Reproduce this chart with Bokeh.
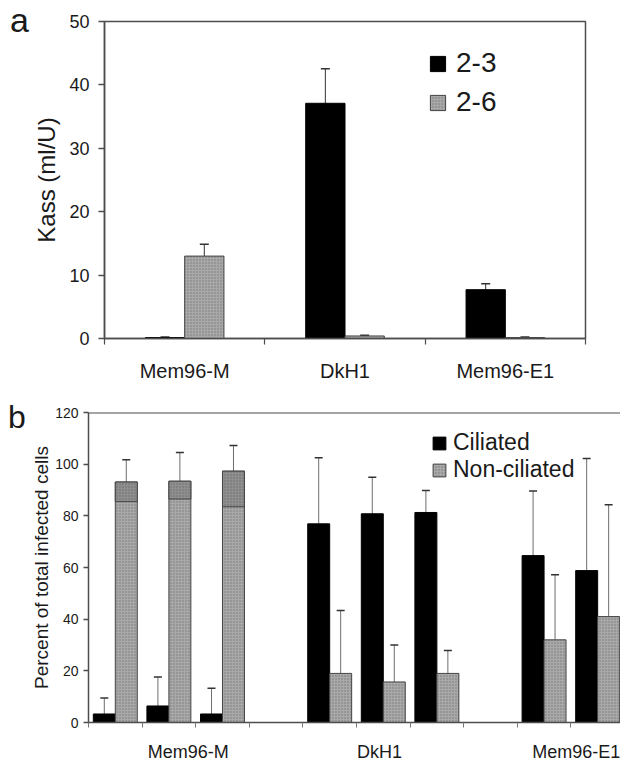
from bokeh.plotting import figure
from bokeh.layouts import column, row
from bokeh.models import (Range1d, FixedTicker, Whisker, ColumnDataSource, Legend,
                          LegendItem, TeeHead, Span, Div)
from bokeh.embed import file_html
from bokeh.resources import INLINE

FONT = "Liberation Sans"
AXC = "#4d4d4d"

# ---------------- Panel a data ----------------
a_categories = ["Mem96-M", "DkH1", "Mem96-E1"]
a_series = ["2-3", "2-6"]
a_val_23 = [0.15, 37.1, 7.7]
a_err_23 = [0.1, 5.45, 0.95]
a_val_26 = [13.0, 0.4, 0.15]
a_err_26 = [1.85, 0.1, 0.1]
a_yticks = [0, 10, 20, 30, 40, 50]

# ---------------- Panel b data ----------------
b_groups = ["Mem96-M", "DkH1", "Mem96-E1"]
b_series = ["Ciliated", "Non-ciliated"]
b_cil_val = [[3.3, 6.4, 3.3], [76.9, 80.8, 81.3], [64.6, 58.8]]
b_cil_err = [[6.2, 11.2, 10.0], [25.6, 14.1, 8.5], [25.0, 43.4]]
b_non_val = [[93.1, 93.4, 97.3], [19.0, 15.7, 19.0], [32.0, 41.0]]
b_non_err = [[8.6, 11.1, 9.9], [24.4, 14.3, 8.9], [25.2, 43.3]]
b_band_lo = [85.5, 86.5, 83.5]          # darker top band on Mem96-M non-ciliated bars
b_label_pos = [1.86, 5.43, 9.1]
b_yticks = [0, 20, 40, 60, 80, 100, 120]

GREY = "#a9a9a9"


def style_common(p):
    p.xgrid.visible = False
    p.ygrid.visible = False
    p.background_fill_color = "white"
    p.border_fill_color = "white"
    for ax in (p.xaxis[0], p.yaxis[0]):
        ax.axis_line_color = AXC
        ax.axis_line_width = 1.5
        ax.major_label_text_font = FONT
        ax.major_label_text_color = "#1a1a1a"
        ax.axis_label_text_font = FONT
        ax.axis_label_text_font_style = "normal"
        ax.axis_label_text_color = "#1a1a1a"


def panel_letter(txt, width, size, pad_left, pad_top):
    return Div(text=txt, width=width, height=50, margin=0,
               styles={"font-family": FONT, "font-size": f"{size}px",
                       "line-height": f"{size}px", "padding-left": f"{pad_left}px",
                       "padding-top": f"{pad_top}px", "box-sizing": "border-box",
                       "color": "#1a1a1a"})


# ================= Panel a =================
pa = figure(width=582, height=392, x_range=Range1d(0, 3), y_range=Range1d(0, 50),
            output_backend="svg", toolbar_location=None, title=None,
            min_border_left=73, min_border_right=27, min_border_top=21, min_border_bottom=54)
pa.frame_align = False
style_common(pa)
pa.outline_line_color = AXC
pa.outline_line_width = 1.5

wa = 0.245
xa_b = [i + 0.5 - wa / 2 for i in range(len(a_categories))]
xa_g = [i + 0.5 + wa / 2 for i in range(len(a_categories))]
src_a1 = ColumnDataSource(dict(x=xa_b, top=a_val_23, up=[v + e for v, e in zip(a_val_23, a_err_23)]))
src_a2 = ColumnDataSource(dict(x=xa_g, top=a_val_26, up=[v + e for v, e in zip(a_val_26, a_err_26)]))
ra1 = pa.vbar(x="x", top="top", bottom=0, width=wa, source=src_a1,
              fill_color="black", line_color="black", line_width=1)
ra2 = pa.vbar(x="x", top="top", bottom=0, width=wa, source=src_a2,
              fill_color=GREY, line_color="#444444", line_width=1,
              hatch_pattern=".", hatch_color="#777777", hatch_scale=3, hatch_weight=1)
for s in (src_a1, src_a2):
    pa.add_layout(Whisker(source=s, base="x", lower="top", upper="up", dimension="height",
                          line_color="#333333", line_width=1, lower_head=None,
                          upper_head=TeeHead(size=9, line_color="#333333", line_width=1.5)))

pa.xaxis.ticker = FixedTicker(ticks=[i + 0.5 for i in range(len(a_categories))],
                              minor_ticks=list(range(len(a_categories) + 1)))
pa.xaxis.major_label_overrides = {i + 0.5: c for i, c in enumerate(a_categories)}
pa.xaxis.major_tick_line_color = None
pa.xaxis.major_tick_out = 0
pa.xaxis.major_tick_in = 0
pa.xaxis.minor_tick_out = 6
pa.xaxis.minor_tick_in = 0
pa.xaxis.minor_tick_line_color = AXC
pa.xaxis.minor_tick_line_width = 1.2
pa.xaxis.major_label_text_font_size = "20px"
pa.xaxis.major_label_standoff = 15

pa.yaxis.ticker = FixedTicker(ticks=a_yticks)
pa.yaxis.minor_tick_line_color = None
pa.yaxis.major_tick_out = 6
pa.yaxis.major_tick_in = 0
pa.yaxis.major_tick_line_color = AXC
pa.yaxis.major_tick_line_width = 1.5
pa.yaxis.major_label_text_font_size = "18px"
pa.yaxis.major_label_standoff = 9
pa.yaxis.axis_label = "Kass (ml/U)"
pa.yaxis.axis_label_text_font_size = "24px"
pa.yaxis.axis_label_standoff = 6

leg_a = Legend(items=[LegendItem(label=a_series[0], renderers=[ra1]),
                      LegendItem(label=a_series[1], renderers=[ra2])],
               location=(324, 220), border_line_color=None, background_fill_alpha=0,
               padding=0, margin=0, spacing=7, label_standoff=9,
               glyph_width=19, glyph_height=19,
               label_text_font=FONT, label_text_font_size="28px", label_text_color="#1a1a1a")
pa.add_layout(leg_a)

# ================= Panel b =================
pb = figure(width=592, height=372, x_range=Range1d(0, 9.926), y_range=Range1d(0, 120),
            output_backend="svg", toolbar_location=None, title=None,
            min_border_left=58, min_border_right=0, min_border_top=20, min_border_bottom=32)
pb.frame_align = False
style_common(pb)
pb.outline_line_color = None
pb.add_layout(Span(location=120, dimension="width", line_color=AXC, line_width=1.8))

wb = 0.41
xb_b, xb_g, cv, ce, nv, ne = [], [], [], [], [], []
for g in range(len(b_groups)):
    for k in range(len(b_cil_val[g])):
        slot = g * 4 + k
        xb_b.append(slot + 0.5 - wb / 2)
        xb_g.append(slot + 0.5 + wb / 2)
        cv.append(b_cil_val[g][k]); ce.append(b_cil_err[g][k])
        nv.append(b_non_val[g][k]); ne.append(b_non_err[g][k])

src_b1 = ColumnDataSource(dict(x=xb_b, top=cv, up=[v + e for v, e in zip(cv, ce)]))
src_b2 = ColumnDataSource(dict(x=xb_g, top=nv, up=[v + e for v, e in zip(nv, ne)]))
rb1 = pb.vbar(x="x", top="top", bottom=0, width=wb, source=src_b1,
              fill_color="black", line_color="black", line_width=1)
rb2 = pb.vbar(x="x", top="top", bottom=0, width=wb, source=src_b2,
              fill_color=GREY, line_color="#444444", line_width=1,
              hatch_pattern=".", hatch_color="#777777", hatch_scale=3, hatch_weight=1)
# darker top band on the first group's non-ciliated bars
n0 = len(b_band_lo)
pb.vbar(x=xb_g[:n0], top=nv[:n0], bottom=b_band_lo, width=wb,
        fill_color="#8f8f8f", line_color="#444444", line_width=1,
        hatch_pattern=".", hatch_color="#6a6a6a", hatch_scale=3, hatch_weight=1)
for s in (src_b1, src_b2):
    pb.add_layout(Whisker(source=s, base="x", lower="top", upper="up", dimension="height",
                          line_color="#6e6e6e", line_width=1, lower_head=None,
                          upper_head=TeeHead(size=8, line_color="#333333", line_width=1.5)))

nslots = 10
pb.xaxis.ticker = FixedTicker(ticks=b_label_pos, minor_ticks=list(range(nslots)))
pb.xaxis.major_label_overrides = {p: g for p, g in zip(b_label_pos, b_groups)}
pb.xaxis.major_tick_line_color = None
pb.xaxis.major_tick_out = 0
pb.xaxis.major_tick_in = 0
pb.xaxis.minor_tick_out = 5
pb.xaxis.minor_tick_in = 0
pb.xaxis.minor_tick_line_color = "#777777"
pb.xaxis.major_label_text_font_size = "18px"
pb.xaxis.major_label_standoff = 14

pb.yaxis.ticker = FixedTicker(ticks=b_yticks)
pb.yaxis.minor_tick_line_color = None
pb.yaxis.major_tick_out = 5
pb.yaxis.major_tick_in = 0
pb.yaxis.major_tick_line_color = AXC
pb.yaxis.major_tick_line_width = 1.5
pb.yaxis.major_label_text_font_size = "14px"
pb.yaxis.major_label_standoff = 5
pb.yaxis.axis_label = "Percent of total infected cells"
pb.yaxis.axis_label_text_font_size = "19px"
pb.yaxis.axis_label_standoff = 0

leg_b = Legend(items=[LegendItem(label=b_series[0], renderers=[rb1]),
                      LegendItem(label=b_series[1], renderers=[rb2])],
               location=(343, 239), border_line_color=None, background_fill_alpha=0,
               padding=0, margin=0, spacing=-4, label_standoff=6,
               glyph_width=16, glyph_height=16,
               label_text_font=FONT, label_text_font_size="23px", label_text_color="#1a1a1a")
pb.add_layout(leg_b)

div_a = panel_letter("a", 30, 34, 10, 3)
div_b = panel_letter("b", 28, 32, 8, 9)

layout = column(row(div_a, pa, spacing=0), row(div_b, pb, spacing=0), spacing=0)
open("out.html", "w").write(file_html(layout, INLINE))
